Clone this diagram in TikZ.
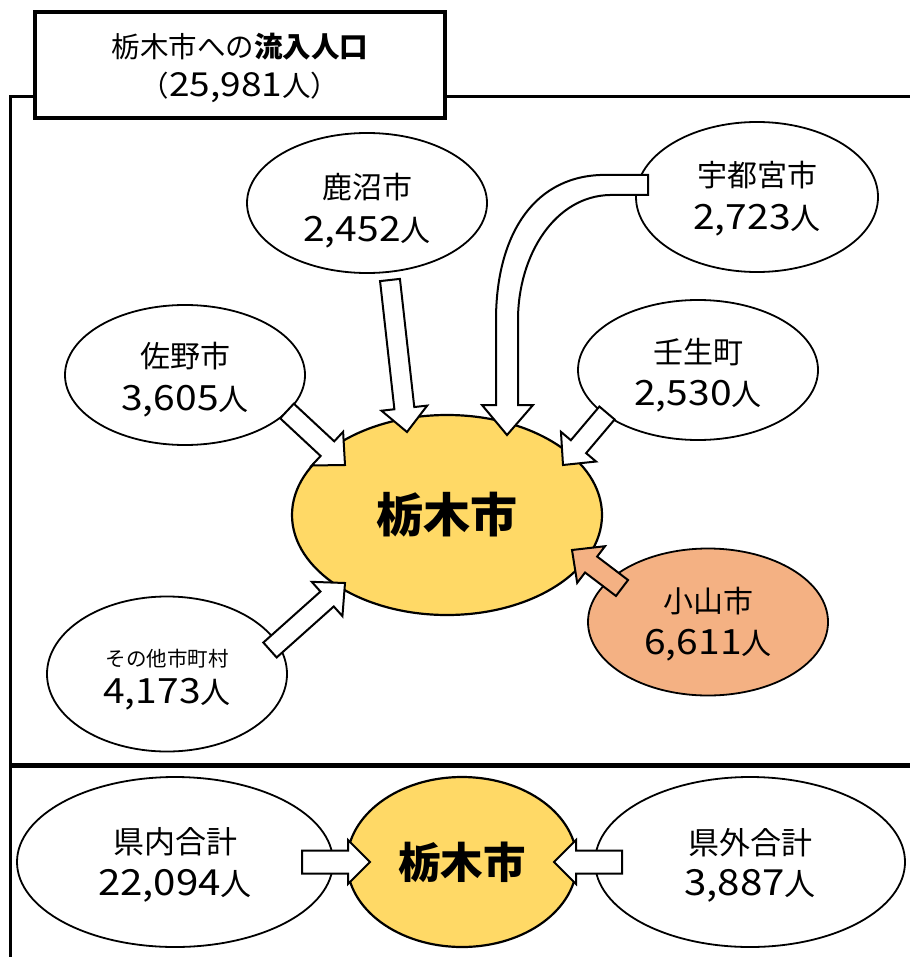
\documentclass[tikz,border=0pt]{standalone}
\usepackage{fontspec}
\setmainfont{Noto Sans CJK JP}
\newfontfamily\numf[FakeStretch=1.12, Scale=1.16]{Noto Sans CJK JP}
\newcommand\nm[1]{{\numf #1}}
\newcommand\sh[2]{\raisebox{#1}[\height][\depth]{#2}}
\usetikzlibrary{calc,shapes.geometric}
\definecolor{tyellow}{HTML}{FFD966}
\definecolor{torange}{HTML}{F4B183}
\tikzset{
  city/.style={ellipse, draw, line width=1.8pt, fill=white, inner sep=0pt, align=center,
    font=\fontsize{30}{42}\selectfont},
  center/.style={ellipse, draw, line width=2.2pt, fill=tyellow, inner sep=0pt, align=center,
    font=\fontsize{47}{47}\selectfont\bfseries},
  arrowline/.style={draw, line width=2pt, line join=miter},
  frameline/.style={line width=3pt},
}
% #1 fill, #2 start, #3 tip, #4 shaft half width, #5 head half width, #6 head length
\newcommand\barrow[6]{%
  \coordinate (hb) at ($(#3)!#6!(#2)$);
  \draw[arrowline, fill=#1] ($(#2)!#4!90:(#3)$) -- ($(hb)!#4!90:(#3)$) -- ($(hb)!#5!90:(#3)$)
    -- (#3) -- ($(hb)!#5!-90:(#3)$) -- ($(hb)!#4!-90:(#3)$) -- ($(#2)!#4!-90:(#3)$) -- cycle;}
\begin{document}
\begin{tikzpicture}[x=1pt,y=-1pt]
\useasboundingbox (0,0) rectangle (910,957);
% frame
\draw[frameline] (10,957) -- (10,97) -- (35,97);
\draw[frameline] (445,97) -- (910,97);
\draw[line width=5pt] (10,765) -- (910,765);
% title
\node[draw, line width=3.5pt, fill=white, minimum width=410pt, minimum height=106pt, align=center,
  font=\fontsize{28.5}{39}\selectfont] (title) at (240,65)
  {\sh{-3pt}{栃木市への\textbf{流入人口}}\\\sh{-3pt}{（\nm{25,981}人）}};
% upper ellipses
\node[city, minimum width=240pt, minimum height=140pt] (kanuma) at (367,203) {\sh{-7pt}{鹿沼市}\\\sh{-8pt}{\nm{2,452}人}};
\node[city, minimum width=242pt, minimum height=150pt] (utsu) at (757,197) {\sh{-1pt}{宇都宮市}\\\sh{-2pt}{\nm{2,723}人}};
\node[city, minimum width=240pt, minimum height=140pt] (sano) at (185,375) {\sh{-4pt}{佐野市}\\\sh{-5pt}{\nm{3,605}人}};
\node[city, minimum width=240pt, minimum height=140pt] (mibu) at (698,370) {\sh{-5pt}{壬生町}\\\sh{-5pt}{\nm{2,530}人}};
\node[center, minimum width=310pt, minimum height=200pt] (tochigi) at (447,515) {栃木市};
\node[city, fill=torange, minimum width=240pt, minimum height=147pt] (oyama) at (708,622) {\sh{-2pt}{小山市}\\\sh{-2pt}{\nm{6,611}人}};
\node[city, minimum width=240pt, minimum height=155pt, font=\fontsize{20.5}{34}\selectfont] (sonota) at (167,674)
  {\sh{-4pt}{その他市町村}\\\fontsize{30}{34}\selectfont \sh{-7pt}{\nm{4,173}人}};
% arrow end points
\coordinate (kaS) at (390,280); \coordinate (kaT) at (407,432);
\coordinate (saS) at (287,411); \coordinate (saT) at (345,465);
\coordinate (miS) at (607,413); \coordinate (miT) at (563,465);
\coordinate (soS) at (270,650); \coordinate (soT) at (345,583);
\coordinate (oyS) at (622,588); \coordinate (oyT) at (572,550);
\barrow{white}{kaS}{kaT}{10pt}{23pt}{24pt}
\barrow{white}{saS}{saT}{10pt}{23pt}{24pt}
\barrow{white}{miS}{miT}{10pt}{23pt}{24pt}
\barrow{white}{soS}{soT}{10pt}{23pt}{24pt}
\barrow{torange}{oyS}{oyT}{10pt}{23pt}{24pt}
% curved arrow from Utsunomiya
\coordinate (utS) at (648,185); \coordinate (utT) at (507,435);
\draw[arrowline, fill=white] (648,175) -- (600,175) .. controls (530,178) and (496,240) .. (496,320)
  -- (496,405) -- (482,405) -- (utT) -- (533,405) -- (518,405) -- (518,320)
  .. controls (518,255) and (555,196) .. (610,195) -- (648,195) -- cycle;
% lower part
\node[city, minimum width=316pt, minimum height=170pt, font=\fontsize{31}{44}\selectfont] (kennai) at (175,862) {\sh{-4pt}{県内合計}\\\sh{-2pt}{\nm{22,094}人}};
\node[center, minimum width=230pt, minimum height=170pt, font=\fontsize{42.5}{42.5}\selectfont\bfseries] (tochigi2) at (462,862) {栃木市};
\node[city, minimum width=310pt, minimum height=170pt, font=\fontsize{31}{44}\selectfont] (kengai) at (750,862) {\sh{-5pt}{県外合計}\\\sh{-2pt}{\nm{3,887}人}};
\coordinate (knS) at (302,862); \coordinate (knT) at (370,862);
\coordinate (kgS) at (622,862); \coordinate (kgT) at (554,862);
\barrow{white}{knS}{knT}{11.5pt}{22pt}{22pt}
\barrow{white}{kgS}{kgT}{11.5pt}{22pt}{22pt}
\end{tikzpicture}
\end{document}
